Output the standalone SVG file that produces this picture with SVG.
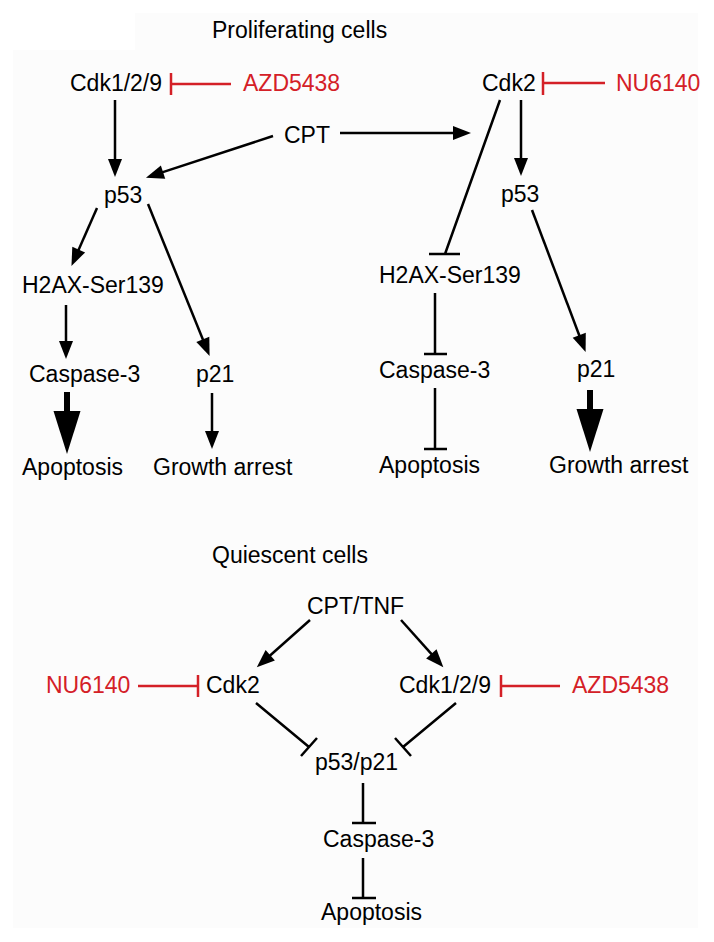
<svg xmlns="http://www.w3.org/2000/svg" width="714" height="942" viewBox="0 0 714 942">
<defs>
<style>
text{font-family:"Liberation Sans",Arial,sans-serif;font-size:23px;fill:#000}
.r{fill:#d42027}
.c{stroke:#000;stroke-width:2.5;fill:none}
.cr{stroke:#d42027;stroke-width:2.5;fill:none}
.th{stroke:#000;stroke-width:6;fill:none}
.a{marker-end:url(#ah)}
.b{marker-end:url(#bh)}
</style>
<marker id="ah" markerUnits="userSpaceOnUse" markerWidth="20" markerHeight="16" refX="1" refY="0" orient="auto" overflow="visible"><path d="M0,-7 L18,0 L0,7 Z" fill="#000"/></marker>
<marker id="bh" markerUnits="userSpaceOnUse" markerWidth="45" markerHeight="30" refX="1" refY="0" orient="auto" overflow="visible"><path d="M0,-13.5 L43,0 L0,13.5 Z" fill="#000"/></marker>
</defs>
<rect width="714" height="942" fill="#fff"/>
<rect x="13" y="50" width="685" height="878" fill="#fcfcfc"/>
<rect x="135" y="13" width="563" height="40" fill="#fcfcfc"/>

<g id="title-proliferating"><text x="212" y="38">Proliferating cells</text></g>
<g id="p-cdk129"><text x="70" y="91">Cdk1/2/9</text></g>
<g id="p-azd5438"><text class="r" x="243" y="91">AZD5438</text></g>
<g id="p-cpt"><text x="284" y="143">CPT</text></g>
<g id="p-cdk2"><text x="482" y="91">Cdk2</text></g>
<g id="p-nu6140"><text class="r" x="616" y="91">NU6140</text></g>
<g id="p-p53-left"><text x="104" y="203">p53</text></g>
<g id="p-p53-right"><text x="501" y="202">p53</text></g>
<g id="p-h2ax-left"><text x="22" y="293">H2AX-Ser139</text></g>
<g id="p-h2ax-right"><text x="379" y="283">H2AX-Ser139</text></g>
<g id="p-casp-left"><text x="29" y="382">Caspase-3</text></g>
<g id="p-p21-left"><text x="196" y="382">p21</text></g>
<g id="p-casp-right"><text x="379" y="378">Caspase-3</text></g>
<g id="p-p21-right"><text x="577" y="377">p21</text></g>
<g id="p-apop-left"><text x="22" y="475">Apoptosis</text></g>
<g id="p-growth-left"><text x="153" y="475">Growth arrest</text></g>
<g id="p-apop-right"><text x="379" y="473">Apoptosis</text></g>
<g id="p-growth-right"><text x="549" y="473">Growth arrest</text></g>

<g id="title-quiescent"><text x="212" y="563">Quiescent cells</text></g>
<g id="q-cpttnf"><text x="307" y="614">CPT/TNF</text></g>
<g id="q-nu6140"><text class="r" x="46" y="693">NU6140</text></g>
<g id="q-cdk2"><text x="206" y="693">Cdk2</text></g>
<g id="q-cdk129"><text x="399" y="693">Cdk1/2/9</text></g>
<g id="q-azd5438"><text class="r" x="572" y="693">AZD5438</text></g>
<g id="q-p53p21"><text x="315" y="770">p53/p21</text></g>
<g id="q-casp"><text x="323" y="847">Caspase-3</text></g>
<g id="q-apop"><text x="321" y="920">Apoptosis</text></g>

<g id="connectors">
<path class="cr" d="M231,84 H171 M171,73 V95"/>
<path class="cr" d="M605,83 H543 M543,72 V95"/>
<path class="c a" d="M115,100 V160"/>
<path class="c a" d="M273,136 L162.1,172.4"/>
<path class="c a" d="M340,133 H454"/>
<path class="c a" d="M521,100 V159"/>
<path class="c a" d="M97,208 L78.3,250.5"/>
<path class="c a" d="M148,204 L203.2,340.3"/>
<path class="c a" d="M66,305 V342"/>
<path class="c a" d="M212,393 V432"/>
<path class="c a" d="M532,210 L579.6,336.2"/>
<path class="th b" d="M67,392 V412"/>
<path class="th b" d="M590,390 V410"/>
<path class="c" d="M500,100 L445,254 M429,254 H460"/>
<path class="c" d="M435,293 V354 M424,354 H447"/>
<path class="c" d="M435,388 V449 M424,449 H447"/>
<path class="c a" d="M310,620 L269.5,656"/>
<path class="c a" d="M401,620 L432,654.6"/>
<path class="cr" d="M138,686 H198 M198,675 V697"/>
<path class="cr" d="M560,686 H501 M501,675 V697"/>
<path class="c" d="M256,703 L309,747 M301,756 L317,738"/>
<path class="c" d="M456,703 L403,747 M411,756 L395,738"/>
<path class="c" d="M363,783 V823 M352,823 H376"/>
<path class="c" d="M363,858 V898 M352,898 H376"/>
</g>
</svg>
